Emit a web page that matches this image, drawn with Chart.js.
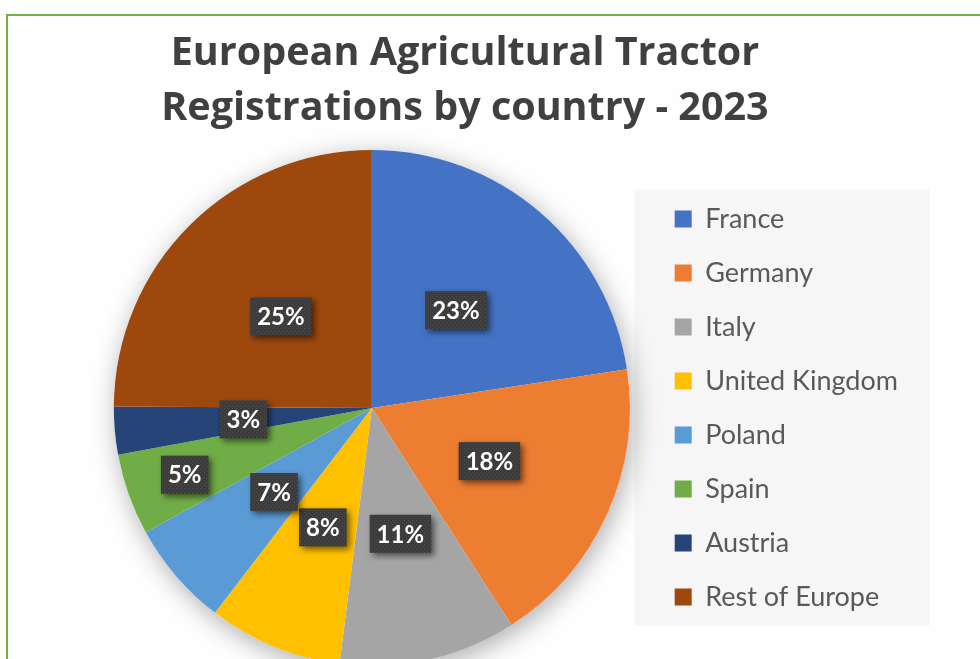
<!DOCTYPE html>
<html>
<head>
<meta charset="utf-8">
<script src="https://cdn.jsdelivr.net/npm/chart.js@4.4.1/dist/chart.umd.min.js"></script>
<style>
  html, body { margin: 0; padding: 0; background: #fff; overflow: hidden; }
  #frame { position: absolute; left: 6px; top: 14px; width: 1200px; height: 900px;
           border-left: 2px solid #72b043; border-top: 2px solid #72b043; background: #fefefe; }
  #wrap { position: absolute; left: 0; top: 0; width: 980px; height: 659px; }
</style>
</head>
<body>
<div id="frame"></div>
<div id="wrap"><canvas id="tractorChart" width="980" height="659"></canvas></div>
<script>
const chartTitle = ["European Agricultural Tractor", "Registrations by country - 2023"];
const countries = ["France", "Germany", "Italy", "United Kingdom", "Poland", "Spain", "Austria", "Rest of Europe"];
const shares = [22.6, 18.3, 11.1, 8.4, 6.6, 5.1, 3.0, 24.9];
const sliceColors = ["#4472C4", "#ED7D31", "#A5A5A5", "#FFC000", "#5B9BD5", "#70AD47", "#264478", "#9E480E"];

// dotted dark fill for the data label boxes
const dots = document.createElement("canvas");
dots.width = 4;
dots.height = 4;
const dctx = dots.getContext("2d");
dctx.fillStyle = "#3b3b3b";
dctx.fillRect(0, 0, 4, 4);
dctx.fillStyle = "#525252";
dctx.fillRect(0, 0, 1, 1);
dctx.fillRect(2, 2, 1, 1);

// move the title a bit left, it is centred over the whole frame not the canvas
const titleShift = {
  id: "titleShift",
  afterLayout(chart) {
    const t = chart.titleBlock;
    const shift = (t.left + t.right) / 2 - 465;
    t.left -= shift;
    t.right -= shift;
  },
};

// grey panel behind the legend + soft shadow under the pie
const backdrop = {
  id: "backdrop",
  beforeDraw(chart) {
    const ctx = chart.ctx;
    const lg = chart.legend;
    const boxes = lg.legendHitBoxes;
    const last = boxes[boxes.length - 1];
    const top = boxes[0].top - 16;
    const bottom = last.top + last.height + 15;
    ctx.save();
    ctx.fillStyle = "#f6f6f6";
    ctx.fillRect(lg.left - 13, top, lg.width + 35, bottom - top);
    ctx.restore();
  },
  beforeDatasetsDraw(chart) {
    const arc = chart.getDatasetMeta(0).data[0];
    const ctx = chart.ctx;
    ctx.save();
    ctx.shadowColor = "rgba(0,0,0,0.32)";
    ctx.shadowBlur = 26;
    ctx.shadowOffsetX = 3;
    ctx.shadowOffsetY = 6;
    ctx.fillStyle = "#fff";
    ctx.beginPath();
    ctx.arc(arc.x, arc.y, arc.outerRadius, 0, Math.PI * 2);
    ctx.fill();
    ctx.restore();
  },
};

const sliceLabels = {
  id: "sliceLabels",
  afterDatasetsDraw(chart, args, opts) {
    const ctx = chart.ctx;
    const meta = chart.getDatasetMeta(0);
    const total = shares.reduce((a, b) => a + b, 0);
    const pattern = ctx.createPattern(dots, "repeat");
    ctx.save();
    ctx.font = "bold 24px Lato";
    ctx.textAlign = "center";
    ctx.textBaseline = "middle";
    meta.data.forEach((arc, i) => {
      const mid = (arc.startAngle + arc.endAngle) / 2;
      const r = arc.outerRadius * (opts.radius[countries[i]] || 0.5);
      const x = arc.x + Math.cos(mid) * r;
      const y = arc.y + Math.sin(mid) * r;
      const text = Math.round((shares[i] / total) * 100) + "%";
      const w = ctx.measureText(text).width + 14;
      const h = 38;
      ctx.shadowColor = "rgba(0,0,0,0.55)";
      ctx.shadowBlur = 6;
      ctx.shadowOffsetX = 3;
      ctx.shadowOffsetY = 3;
      ctx.fillStyle = pattern;
      ctx.fillRect(x - w / 2, y - h / 2, w, h);
      ctx.shadowColor = "transparent";
      ctx.fillStyle = "#fff";
      ctx.fillText(text, x, y + 1);
    });
    ctx.restore();
  },
};

const ctx = document.getElementById("tractorChart").getContext("2d");
const tractorChart = new Chart(ctx, {
  type: "pie",
  data: {
    labels: countries,
    datasets: [
      {
        data: shares,
        backgroundColor: sliceColors,
        borderWidth: 0,
        radius: 258,
        clip: false,
      },
    ],
  },
  options: {
    responsive: false,
    animation: false,
    events: [],
    layout: {
      padding: { top: 0, left: 96, right: 72, bottom: 0 },
    },
    plugins: {
      title: {
        display: true,
        text: chartTitle,
        color: "#404040",
        font: { family: "Open Sans", size: 39.5, weight: "bold", lineHeight: 55 / 39.5 },
        padding: { top: 26, bottom: 21 },
      },
      legend: {
        position: "right",
        fullSize: false,
        labels: {
          boxWidth: 17,
          boxHeight: 17,
          padding: 27,
          color: "#595959",
          font: { family: "Lato", size: 27 },
        },
      },
      tooltip: { enabled: false },
      sliceLabels: {
        radius: { Spain: 0.77 },
      },
    },
  },
  plugins: [titleShift, backdrop, sliceLabels],
});
</script>
</body>
</html>
